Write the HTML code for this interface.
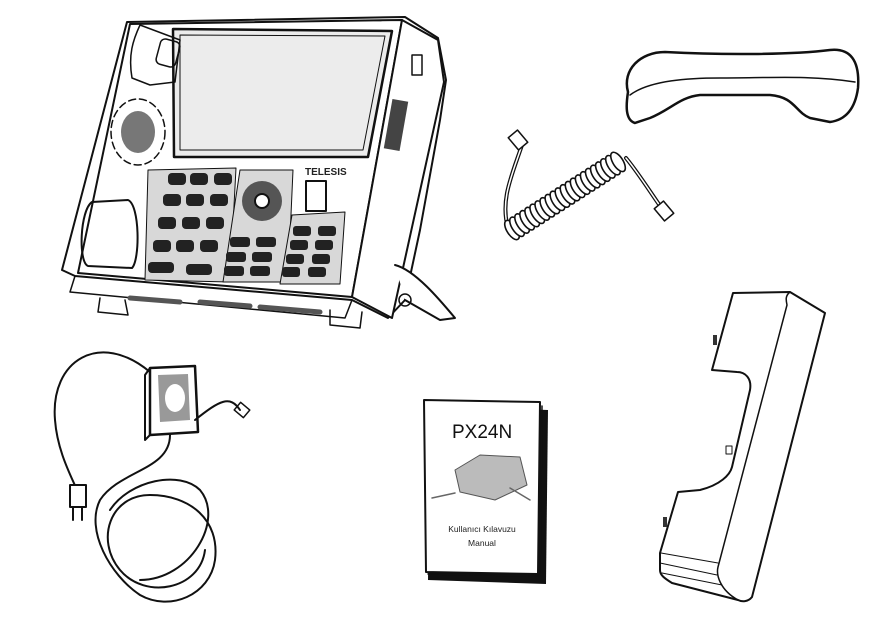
<!DOCTYPE html>
<html><head><meta charset="utf-8"><style>
html,body{margin:0;padding:0;background:#fff;width:880px;height:618px;overflow:hidden}
svg{display:block}
text{font-family:"Liberation Sans",sans-serif}
</style></head><body>
<svg width="880" height="618" viewBox="0 0 880 618" xmlns="http://www.w3.org/2000/svg" fill="none" stroke="#111" stroke-width="2" stroke-linejoin="round" stroke-linecap="round">
<!-- PHONE -->
<g>
<path d="M127,22 L405,17 L438,38 L446,80 L440,120 L420,230 L405,300 L388,318 L352,300 L75,276 L62,270 Z" fill="#fff"/>
<path d="M130,24 L402,20 L352,297 L78,273 Z" fill="#fff"/>
<path d="M402,20 L438,40 L444,82 L392,318 L352,297 Z" fill="#fff"/>
<path d="M173,29 L392,31 L368,157 L174,157 Z" fill="#ececec" stroke-width="2.5"/>
<path d="M180,35 L385,36 L363,150 L180,150 Z" stroke-width="1"/>
<path d="M140,25 C133,40 128,55 132,78 L150,85 L175,82 L180,40 Z" stroke-width="1.5"/>
<rect x="158" y="40" width="20" height="26" rx="5" transform="rotate(15 168 53)" stroke-width="1.5"/>
<ellipse cx="138" cy="132" rx="27" ry="33" stroke-dasharray="7 4" stroke-width="1.5"/>
<ellipse cx="138" cy="132" rx="17" ry="21" fill="#777" stroke="none"/>
<path d="M92,202 L128,200 C140,205 140,260 132,268 L88,266 C78,262 80,210 92,202 Z" stroke-width="2"/>
<path d="M148,170 L236,168 L230,282 L145,280 Z" fill="#d8d8d8" stroke-width="1"/>
<path d="M240,170 L293,170 L288,282 L223,282 Z" fill="#d8d8d8" stroke-width="1"/>
<path d="M292,215 L345,212 L340,284 L280,284 Z" fill="#d8d8d8" stroke-width="1"/>
<g fill="#222" stroke="none">
<rect x="168" y="173" width="18" height="12" rx="4"/><rect x="190" y="173" width="18" height="12" rx="4"/><rect x="214" y="173" width="18" height="12" rx="4"/>
<rect x="163" y="194" width="18" height="12" rx="4"/><rect x="186" y="194" width="18" height="12" rx="4"/><rect x="210" y="194" width="18" height="12" rx="4"/>
<rect x="158" y="217" width="18" height="12" rx="4"/><rect x="182" y="217" width="18" height="12" rx="4"/><rect x="206" y="217" width="18" height="12" rx="4"/>
<rect x="153" y="240" width="18" height="12" rx="4"/><rect x="176" y="240" width="18" height="12" rx="4"/><rect x="200" y="240" width="18" height="12" rx="4"/>
<rect x="148" y="262" width="26" height="11" rx="4"/><rect x="186" y="264" width="26" height="11" rx="4"/>
<rect x="230" y="237" width="20" height="10" rx="3"/><rect x="256" y="237" width="20" height="10" rx="3"/>
<rect x="226" y="252" width="20" height="10" rx="3"/><rect x="252" y="252" width="20" height="10" rx="3"/>
<rect x="224" y="266" width="20" height="10" rx="3"/><rect x="250" y="266" width="20" height="10" rx="3"/>
<rect x="293" y="226" width="18" height="10" rx="3"/><rect x="318" y="226" width="18" height="10" rx="3"/>
<rect x="290" y="240" width="18" height="10" rx="3"/><rect x="315" y="240" width="18" height="10" rx="3"/>
<rect x="286" y="254" width="18" height="10" rx="3"/><rect x="312" y="254" width="18" height="10" rx="3"/>
<rect x="282" y="267" width="18" height="10" rx="3"/><rect x="308" y="267" width="18" height="10" rx="3"/>
</g>
<circle cx="262" cy="201" r="20" fill="#555" stroke="none"/><circle cx="262" cy="201" r="7" fill="#fff"/>
<rect x="306" y="181" width="20" height="30" stroke-width="2"/>
<text x="305" y="175" font-size="10" font-weight="bold" fill="#222" stroke="none">TELESIS</text>
<path d="M100,298 L98,312 L128,315 L125,300" stroke-width="1.5" fill="#fff"/>
<path d="M330,310 L330,325 L360,328 L362,312" stroke-width="1.5" fill="#fff"/>
<path d="M75,276 L70,292 L345,318 L352,300" stroke-width="1.5"/>
<g stroke="#555" stroke-width="5"><path d="M130,298 L180,302"/><path d="M200,302 L250,306"/><path d="M260,307 L320,312"/></g>
<path d="M395,265 C415,270 440,300 455,318 L440,320 L405,300" stroke-width="2" fill="#fff"/>
<circle cx="405" cy="300" r="6" stroke-width="1.5"/>
<rect x="388" y="100" width="16" height="50" fill="#444" stroke="none" transform="rotate(10 396 125)"/>
<rect x="412" y="55" width="10" height="20" stroke-width="1.5"/>
</g>
<!-- HANDSET -->
<path d="M628,92 C622,70 640,52 665,52 C720,55 790,55 830,50 C850,48 860,60 858,88 C855,110 845,120 830,122 L810,118 C795,112 795,97 770,95 L700,95 C680,97 670,110 650,118 L635,123 C625,120 626,105 628,92 Z" fill="#fff" stroke-width="2.5"/>
<path d="M630,95 C650,80 690,78 720,78 C770,78 810,75 855,82" stroke-width="1.5"/>
<!-- CORD -->
<path d="M508,228 C500,200 512,175 522,145" stroke-width="4"/>
<path d="M508,228 C500,200 512,175 522,145" stroke="#fff" stroke-width="1.5"/>
<path d="M626,158 C640,175 652,195 663,210" stroke-width="4"/>
<path d="M626,158 C640,175 652,195 663,210" stroke="#fff" stroke-width="1.5"/>
<rect x="512" y="132" width="12" height="16" transform="rotate(-40 518 140)" stroke-width="1.5" fill="#fff"/>
<rect x="658" y="203" width="12" height="16" transform="rotate(-40 664 211)" stroke-width="1.5" fill="#fff"/>
<g transform="translate(512,230) rotate(-32.7)" stroke-width="1.6" fill="#fff">
<ellipse cx="0" cy="0" rx="5" ry="11"/><ellipse cx="6" cy="0" rx="5" ry="11"/><ellipse cx="12" cy="0" rx="5" ry="11"/><ellipse cx="18" cy="0" rx="5" ry="11"/><ellipse cx="24" cy="0" rx="5" ry="11"/><ellipse cx="30" cy="0" rx="5" ry="11"/><ellipse cx="36" cy="0" rx="5" ry="11"/><ellipse cx="42" cy="0" rx="5" ry="11"/><ellipse cx="48" cy="0" rx="5" ry="11"/><ellipse cx="54" cy="0" rx="5" ry="11"/><ellipse cx="60" cy="0" rx="5" ry="11"/><ellipse cx="66" cy="0" rx="5" ry="11"/><ellipse cx="72" cy="0" rx="5" ry="11"/><ellipse cx="78" cy="0" rx="5" ry="11"/><ellipse cx="84" cy="0" rx="5" ry="11"/><ellipse cx="90" cy="0" rx="5" ry="11"/><ellipse cx="96" cy="0" rx="5" ry="11"/><ellipse cx="102" cy="0" rx="5" ry="11"/><ellipse cx="108" cy="0" rx="5" ry="11"/><ellipse cx="114" cy="0" rx="5" ry="11"/><ellipse cx="120" cy="0" rx="5" ry="11"/><ellipse cx="126" cy="0" rx="5" ry="11"/>
</g>
<!-- BRACKET -->
<path d="M733,293 L790,292 L825,313 L752,597 C748,602 742,602 738,600 L672,583 C664,578 660,575 660,570 L660,553 L678,492 L700,490 C720,485 730,475 732,467 L750,390 C752,378 745,372 737,372 L712,370 Z" fill="#fff" stroke-width="2"/>
<path d="M790,292 C785,296 786,300 787,305 L718,567 C716,575 720,590 738,600" stroke-width="1.5"/>
<path d="M661,553 L718,563 M660,563 L717,575 M662,573 L722,585" stroke-width="1"/>
<rect x="713" y="335" width="4" height="10" fill="#333" stroke="none"/>
<rect x="726" y="446" width="6" height="8" stroke-width="1"/>
<rect x="663" y="517" width="4" height="10" fill="#333" stroke="none"/>
<!-- POWER ADAPTER -->
<path d="M150,368 L195,366 L198,432 L150,435 Z" fill="#fff" stroke-width="2.5"/>
<path d="M150,368 L145,375 L145,440 L150,435" stroke-width="2"/>
<path d="M158,375 L188,374 L190,420 L160,422 Z" fill="#999" stroke="none"/>
<ellipse cx="175" cy="398" rx="10" ry="14" fill="#fff" stroke="none"/>
<path d="M150,372 C100,330 50,360 55,420 C58,460 80,490 80,500" stroke-width="2"/>
<rect x="70" y="485" width="16" height="22" stroke-width="2" fill="#fff"/>
<path d="M73,507 L73,520 M82,507 L82,520" stroke-width="2"/>
<path d="M195,420 C220,400 230,395 240,410" stroke-width="2"/>
<rect x="236" y="405" width="12" height="10" transform="rotate(40 242 410)" stroke-width="1.5"/>
<path d="M170,435 C170,470 120,470 100,500 C85,530 110,575 140,595 C170,612 210,595 215,560 C220,520 190,495 150,495 C110,495 95,540 120,570 C145,600 200,590 205,550" stroke-width="2"/>
<path d="M110,510 C130,480 180,470 200,490 C225,520 190,580 140,580" stroke-width="2"/>
<!-- MANUAL -->
<path d="M430,406 L548,410 L546,584 L428,580 Z" fill="#111" stroke="none"/>
<path d="M424,400 L540,402 L538,574 L426,572 Z" fill="#fff" stroke-width="2"/>
<path d="M428,574 L540,576 L542,406" stroke-width="1.5"/>
<text x="452" y="438" font-size="19" fill="#111" stroke="none">PX24N</text>
<path d="M455,470 L480,455 L520,457 L527,485 L495,500 L460,492 Z" fill="#bbb" stroke="#555" stroke-width="1"/>
<path d="M432,498 L455,493 M510,488 L530,500" stroke="#666" stroke-width="1.5"/>
<text x="482" y="532" font-size="8.5" fill="#222" stroke="none" text-anchor="middle">Kullanıcı Kılavuzu</text>
<text x="482" y="546" font-size="8.5" fill="#222" stroke="none" text-anchor="middle">Manual</text>
</svg>
</body></html>
